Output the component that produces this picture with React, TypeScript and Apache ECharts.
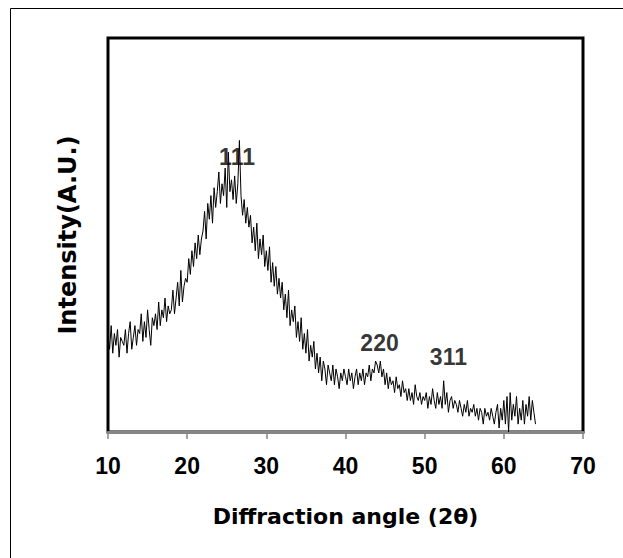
import React, { useEffect, useRef } from "react";
import * as echarts from "echarts";

// Diffraction angle grid (2θ): starts at 10°, one reading every 0.2°
const angleStart = 10;
const angleStep = 0.2;

// Intensity (A.U.), 10.0° … 64.0°
const intensity: number[] = [
  // 10.0 - 11.8
  24, 21, 27, 20, 25, 22, 26, 19, 24, 23,
  // 12.0 - 13.8
  22, 26, 20, 25, 28, 21, 24, 27, 22, 26,
  // 14.0 - 15.8
  25, 30, 23, 28, 24, 31, 26, 22, 29, 27,
  // 16.0 - 17.8
  30, 26, 33, 27, 31, 29, 34, 28, 32, 30,
  // 18.0 - 19.8
  31, 36, 30, 34, 38, 32, 41, 33, 37, 39,
  // 20.0 - 21.8
  38, 44, 40, 46, 42, 48, 44, 50, 45, 49,
  // 22.0 - 23.8
  51, 56, 49, 58, 54, 60, 53, 62, 57, 61,
  // 24.0 - 25.8
  66, 58, 63, 60, 67, 57, 71, 61, 64, 59,
  // 26.0 - 27.8
  65, 58, 63, 74, 60, 55, 59, 53, 57, 52,
  // 28.0 - 29.8
  55, 48, 52, 46, 53, 44, 49, 45, 50, 42,
  // 30.0 - 31.8
  46, 41, 47, 38, 43, 37, 42, 35, 39, 34,
  // 32.0 - 33.8
  38, 31, 35, 29, 36, 27, 31, 28, 32, 24,
  // 34.0 - 35.8
  28, 23, 29, 21, 25, 20, 26, 18, 22, 19,
  // 36.0 - 37.8
  23, 16, 20, 15, 19, 13, 18, 16, 12, 17,
  // 38.0 - 39.8
  15, 13, 17, 12, 16, 14, 11, 15, 13, 16,
  // 40.0 - 41.8
  14, 12, 16, 13, 15, 11, 14, 16, 12, 15,
  // 42.0 - 43.8
  13, 16, 12, 15, 14, 17, 13, 16, 15, 18,
  // 44.0 - 45.8
  17, 15, 18, 14, 16, 12, 15, 11, 14, 12,
  // 46.0 - 47.8
  13, 10, 14, 11, 12, 9, 13, 10, 11, 8,
  // 48.0 - 49.8
  11, 8, 10, 7, 12, 9, 8, 10, 7, 9,
  // 50.0 - 51.8
  8, 10, 6, 9, 7, 11, 8, 6, 10, 7,
  // 52.0 - 53.8
  9, 6, 13, 7, 10, 5, 8, 9, 6, 8,
  // 54.0 - 55.8
  7, 5, 8, 6, 4, 7, 5, 8, 4, 6,
  // 56.0 - 57.8
  5, 7, 4, 6, 3, 6, 5, 2, 6, 4,
  // 58.0 - 59.8
  5, 3, 6, 4, 2, 5, 7, 1, 6, 3,
  // 60.0 - 61.8
  8, 2, 9, 0, 10, 3, 7, 4, 9, 2,
  // 62.0 - 63.8
  6, 3, 8, 2, 7, 4, 9, 3, 8, 5,
  // 64.0
  2,
];

// Peak (hkl) annotations
const peakLabels = ["111", "220", "311"];
const peakAngles = [26.3, 44.3, 53.0];
const peakHeights = [69.8, 22.6, 19.0];

const xMin = 10;
const xMax = 70;
const xInterval = 10;

const FONT = "'Liberation Sans', Arial, sans-serif";
const TITLE_FONT = "'DejaVu Sans', sans-serif";

export default function App() {
  const ref = useRef<HTMLDivElement>(null);

  useEffect(() => {
    if (!ref.current) return;
    const chart = echarts.init(ref.current, null, { renderer: "svg" });

    const lineData = intensity.map((v, i) => [
      Number((angleStart + i * angleStep).toFixed(1)),
      v,
    ]);
    const labelData = peakLabels.map((name, i) => ({
      name,
      value: [peakAngles[i], peakHeights[i]],
    }));

    chart.setOption({
      animation: false,
      backgroundColor: "#fff",
      grid: {
        left: 108,
        right: 40,
        top: 38,
        bottom: 126,
        show: true,
        borderColor: "#000",
        borderWidth: 3,
        backgroundColor: "transparent",
      },
      xAxis: {
        type: "value",
        min: xMin,
        max: xMax,
        interval: xInterval,
        name: "Diffraction angle (2θ)",
        nameLocation: "middle",
        nameGap: 73,
        nameTextStyle: {
          fontFamily: TITLE_FONT,
          fontWeight: "bold",
          fontSize: 22,
          color: "#000",
        },
        axisLine: { show: true, onZero: false, lineStyle: { color: "#868686", width: 3 } },
        axisTick: { show: true, length: 7, lineStyle: { color: "#868686", width: 1.5 } },
        axisLabel: {
          margin: 22,
          fontFamily: FONT,
          fontWeight: "bold",
          fontSize: 23,
          color: "#000",
        },
        splitLine: { show: false },
      },
      yAxis: {
        type: "value",
        min: 0,
        max: 100,
        name: "Intensity(A.U.)",
        nameLocation: "middle",
        nameRotate: 90,
        nameGap: 28,
        nameTextStyle: {
          fontFamily: TITLE_FONT,
          fontWeight: "bold",
          fontSize: 24,
          color: "#000",
        },
        axisLine: { show: false },
        axisTick: { show: false },
        axisLabel: { show: false },
        splitLine: { show: false },
      },
      graphic: [
        {
          type: "rect",
          shape: { x: 10.5, y: 8.5, width: 700, height: 700 },
          style: { fill: "none", stroke: "#000", lineWidth: 1 },
          silent: true,
        },
      ],
      series: [
        {
          type: "line",
          data: lineData,
          showSymbol: false,
          symbol: "none",
          lineStyle: { color: "#000", width: 1 },
          z: 2,
        },
        {
          type: "scatter",
          data: labelData,
          symbolSize: 0,
          itemStyle: { color: "#000" },
          label: {
            show: true,
            position: "inside",
            formatter: (p: any) => p.name,
            fontFamily: FONT,
            fontWeight: "bold",
            fontSize: 23,
            color: "#000",
            textBorderWidth: 0,
            textBorderColor: "transparent",
          },
          z: 3,
        },
      ],
    });

    return () => chart.dispose();
  }, []);

  return (
    <div
      ref={ref}
      style={{
        position: "fixed",
        left: 0,
        top: 0,
        width: 623,
        height: 558,
        background: "#fff",
      }}
    />
  );
}
